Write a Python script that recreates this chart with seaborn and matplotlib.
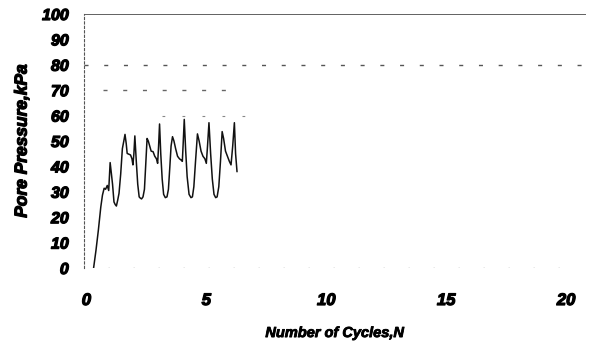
import matplotlib
matplotlib.use("Agg")
import matplotlib.pyplot as plt
import matplotlib.patheffects as pe
import seaborn as sns
import pandas as pd

cycles = [0.30,0.40,0.50,0.60,0.67,0.74,0.80,0.87,0.93,0.99,1.04,1.09,1.15,1.20,1.25,1.30,1.36,1.43,1.50,1.56,
          1.61,1.66,1.70,1.77,1.84,1.90,1.94,1.98,2.02,2.08,2.14,2.20,2.25,2.30,2.36,2.42,2.47,2.53,2.58,2.64,
          2.70,2.78,2.85,2.92,2.97,3.01,3.05,3.10,3.16,3.22,3.29,3.36,3.42,3.48,3.53,3.59,3.65,3.72,3.80,3.88,
          3.95,4.00,4.04,4.08,4.14,4.20,4.28,4.36,4.42,4.48,4.55,4.63,4.70,4.78,4.86,4.94,5.00,5.05,5.11,5.18,
          5.25,5.32,5.39,5.45,5.52,5.59,5.66,5.72,5.80,5.88,5.96,6.03,6.10,6.17,6.22,6.28]
pressure = [0,7,15,24,28.7,31.4,31,32.5,30.5,41.5,37.3,33,26,25,24.4,26.5,29.4,37,47,50,
            52.6,49,45.1,44.8,44.5,43,40.6,45,52,42,33,28,27.5,27.2,28,31,40,51,50,48,
            46,45.8,44,43,41.2,48,56.7,45,35,29,27.7,28,31,40,48,51.7,50,47,44,43,
            42.5,42,50,58.5,46,36,29,27.7,28,32,42,52.8,50,46,44,43,41.2,48,57.2,45,
            35,29,27.7,28,32,42,53.7,51,46,44,42,40.6,48,57.2,45,37.9]

x_ticks = [0, 5, 10, 15, 20]
y_ticks = [0, 10, 20, 30, 40, 50, 60, 70, 80, 90, 100]

df = pd.DataFrame({"N": cycles, "u": pressure})

sns.set_style("white")
plt.rcParams['font.family'] = ['Liberation Sans', 'DejaVu Sans']
plt.rcParams['text.color'] = 'black'
plt.rcParams['xtick.color'] = 'black'
plt.rcParams['ytick.color'] = 'black'
plt.rcParams['axes.labelcolor'] = 'black'

fig = plt.figure(figsize=(6.07, 3.45), dpi=100)
ax = fig.add_axes([84/607, 1 - 268/345, (586-84)/607, (268-14)/345])

sns.lineplot(data=df, x="N", y="u", ax=ax, color="#111111", linewidth=1.1)

ax.set_xlim(-0.1, 20.83)
ax.set_ylim(0, 100)

# reference lines
ax.axhline(100, color="#555555", linewidth=1.3)
ax.axhline(80, color="#555555", linewidth=1.0, linestyle=(0, (2.9, 11.3)))
ax.plot([0.7, 6.0], [70, 70], color="#666666", linewidth=1.0, linestyle=(0, (2.9, 11.3)))
ax.plot([3.15, 6.6], [60, 60], color="#888888", linewidth=0.8, linestyle=(0, (2.5, 15.5)))
ax.plot([0.88, 20.3], [0, 0], color="#888888", linewidth=1.0, linestyle=(0, (1.0, 17.0)))

for s in ["top", "right", "bottom"]:
    ax.spines[s].set_visible(False)
ax.spines["left"].set_color("#555555")
ax.spines["left"].set_linewidth(0.8)
ax.spines["left"].set_linestyle((0, (2, 2)))

ax.set_xticks(x_ticks)
ax.set_yticks(y_ticks)
ax.set_yticks([5, 15, 25, 35, 45, 55, 65, 75, 85, 95], minor=True)
ax.tick_params(axis="y", which="major", length=0, pad=11)
ax.tick_params(axis="y", which="minor", length=3, color="#555555", direction="in")
ax.tick_params(axis="x", which="major", length=0, pad=18)

stroke = [pe.withStroke(linewidth=0.9, foreground="black")]
for lbl in ax.get_yticklabels():
    lbl.set_fontsize(11.5)
    lbl.set_fontweight("bold")
    lbl.set_fontstyle("italic")
    lbl.set_path_effects(stroke)
for lbl in ax.get_xticklabels():
    lbl.set_fontsize(12)
    lbl.set_fontweight("bold")
    lbl.set_fontstyle("italic")
    lbl.set_path_effects(stroke)

xl = ax.set_xlabel("Number of Cycles,N", fontsize=10.5, fontweight="bold", fontstyle="italic", labelpad=13)
yl = ax.set_ylabel("Pore Pressure,kPa", fontsize=12.5, fontweight="bold", fontstyle="italic", labelpad=9)
xl.set_path_effects([pe.withStroke(linewidth=0.6, foreground="black")])
yl.set_path_effects(stroke)

fig.savefig("out.png", dpi=100)
